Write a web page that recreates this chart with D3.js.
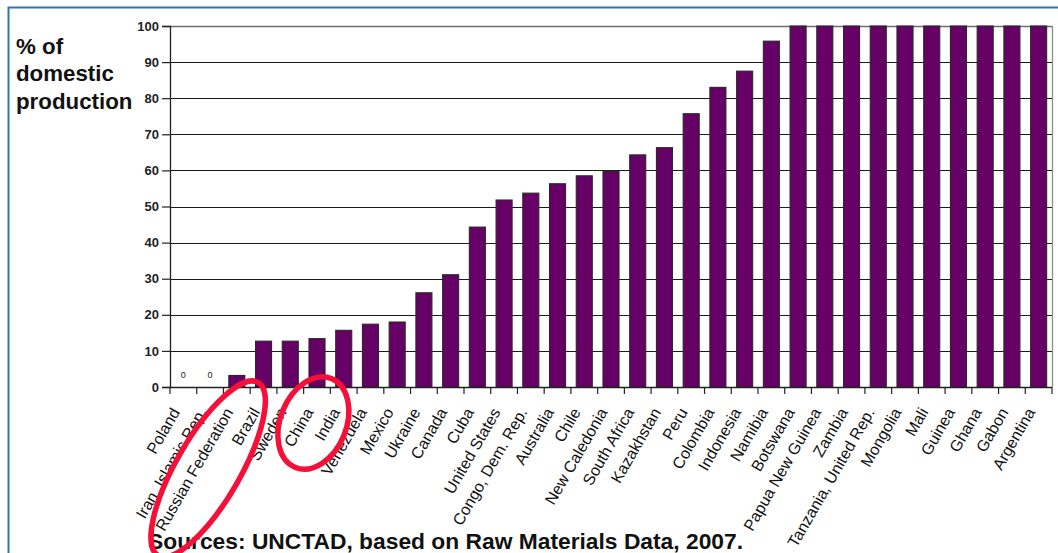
<!DOCTYPE html>
<html>
<head>
<meta charset="utf-8">
<script src="https://cdn.jsdelivr.net/npm/d3@7"></script>
<style>
  html, body { margin: 0; padding: 0; background: #fff; }
  svg { display: block; font-family: Arial, "Liberation Sans", sans-serif; }
</style>
</head>
<body>
<svg id="chart" width="1058" height="553"></svg>
<script>
const categories = ["Poland", "Iran, Islamic Rep.", "Russian Federation", "Brazil", "Sweden", "China", "India",
  "Venezuela", "Mexico", "Ukraine", "Canada", "Cuba", "United States", "Congo, Dem. Rep.", "Australia",
  "Chile", "New Caledonia", "South Africa", "Kazakhstan", "Peru", "Colombia", "Indonesia", "Namibia",
  "Botswana", "Papua New Guinea", "Zambia", "Tanzania, United Rep.", "Mongolia", "Mali", "Guinea",
  "Ghana", "Gabon", "Argentina"];
const values = [0, 0, 3.2, 12.7, 12.7, 13.4, 15.7, 17.4, 18.0, 26.1, 31.1, 44.3, 51.8, 53.7, 56.3,
  58.5, 59.7, 64.3, 66.3, 75.7, 83.0, 87.5, 95.8, 100, 100, 100, 100, 100, 100, 100, 100, 100, 100];
const yTicks = [0, 10, 20, 30, 40, 50, 60, 70, 80, 90, 100];
const yLabelLines = ["% of", "domestic", "production"];
const sourceText = "Sources: UNCTAD, based on Raw Materials Data, 2007.";
const circled = [["Russian Federation", "Brazil"], ["China", "India"]];

const svg = d3.select("#chart");
const pLeft = 170, pRight = 1052, pTop = 26, pBottom = 387;

const x = d3.scaleBand().domain(categories).range([pLeft, pRight]).paddingInner(0.4).paddingOuter(0.2);
const y = d3.scaleLinear().domain([0, 100]).range([pBottom, pTop]);

// slide frame
svg.append("path")
  .attr("d", `M8.5,560 L8.5,7.5 L1070,7.5`)
  .attr("fill", "none").attr("stroke", "#2e75b6").attr("stroke-width", 2);

// gridlines
svg.append("g").selectAll("line").data(yTicks.filter(d => d > 0)).join("line")
  .attr("x1", pLeft).attr("x2", pRight)
  .attr("y1", d => Math.round(y(d)) + 0.5).attr("y2", d => Math.round(y(d)) + 0.5)
  .attr("stroke", d => d === 100 ? "#6e6e6e" : "#1a1a1a").attr("stroke-width", d => d === 100 ? 1.6 : 1.1);

// right border of plot area
svg.append("line").attr("x1", pRight + 0.5).attr("x2", pRight + 0.5).attr("y1", pTop).attr("y2", pBottom)
  .attr("stroke", "#8a8a8a").attr("stroke-width", 1.3);

// bars
svg.append("g").selectAll("rect").data(categories).join("rect")
  .attr("x", d => x(d))
  .attr("y", (d, i) => y(values[i]))
  .attr("width", x.bandwidth())
  .attr("height", (d, i) => pBottom - y(values[i]))
  .attr("fill", "#660066")
  .attr("stroke", "#2a2a2a").attr("stroke-width", 1.1);

// zero value labels
svg.append("g").selectAll("text").data(categories.filter((d, i) => values[i] === 0)).join("text")
  .attr("x", d => x(d) + x.bandwidth() / 2)
  .attr("y", y(0) - 9)
  .attr("text-anchor", "middle")
  .attr("font-size", 9).attr("fill", "#222")
  .text("0");

// y axis
const yAxis = svg.append("g").attr("transform", `translate(${pLeft},0)`)
  .call(d3.axisLeft(y).tickValues(yTicks).tickSize(8).tickPadding(3));
yAxis.select(".domain").attr("stroke", "#222").attr("stroke-width", 1.3);
yAxis.selectAll(".tick line").attr("stroke", "#222").attr("stroke-width", 1.2);
yAxis.selectAll(".tick text").attr("font-size", 13).attr("font-weight", "bold").attr("fill", "#222")
  .attr("font-family", "Arial, 'Liberation Sans', sans-serif");

// x axis line & boundary ticks
const step = x.step();
svg.append("line").attr("x1", pLeft).attr("x2", pRight).attr("y1", pBottom + 0.5).attr("y2", pBottom + 0.5)
  .attr("stroke", "#222").attr("stroke-width", 1.3);
svg.append("g").selectAll("line").data(d3.range(categories.length + 1)).join("line")
  .attr("x1", i => pLeft + i * step).attr("x2", i => pLeft + i * step)
  .attr("y1", pBottom).attr("y2", pBottom + 7)
  .attr("stroke", "#222").attr("stroke-width", 1.2);

// category labels
svg.append("g").selectAll("text").data(categories).join("text")
  .attr("transform", d => `translate(${x(d) + x.bandwidth() / 2 - 3},${pBottom + 25}) rotate(-60)`)
  .attr("text-anchor", "end")
  .attr("font-size", 16).attr("fill", "#111")
  .text(d => d);

// y label
svg.append("g").selectAll("text").data(yLabelLines).join("text")
  .attr("x", 16).attr("y", (d, i) => 53.5 + i * 27.5)
  .attr("font-size", 22.3).attr("font-weight", "bold").attr("fill", "#111")
  .text(d => d);

// source
svg.append("text").attr("x", 148).attr("y", 549)
  .attr("font-size", 22.8).attr("font-weight", "bold").attr("fill", "#111")
  .text(sourceText);

// red hand-drawn annotation ellipses
const ellipses = [
  { pair: circled[0], dx: -42, dy: 82, rx: 100, ry: 32, angle: -60 },
  { pair: circled[1], dx: -17, dy: 36, rx: 48, ry: 33, angle: -68 }
];
svg.append("g").selectAll("ellipse").data(ellipses).join("ellipse")
  .attr("cx", 0).attr("cy", 0)
  .attr("rx", d => d.rx).attr("ry", d => d.ry)
  .attr("transform", d => {
    const cx = (x(d.pair[0]) + x(d.pair[1]) + x.bandwidth()) / 2 + d.dx;
    return `translate(${cx},${pBottom + d.dy}) rotate(${d.angle})`;
  })
  .attr("fill", "none").attr("stroke", "#f5103a").attr("stroke-width", 5.5);
</script>
</body>
</html>
